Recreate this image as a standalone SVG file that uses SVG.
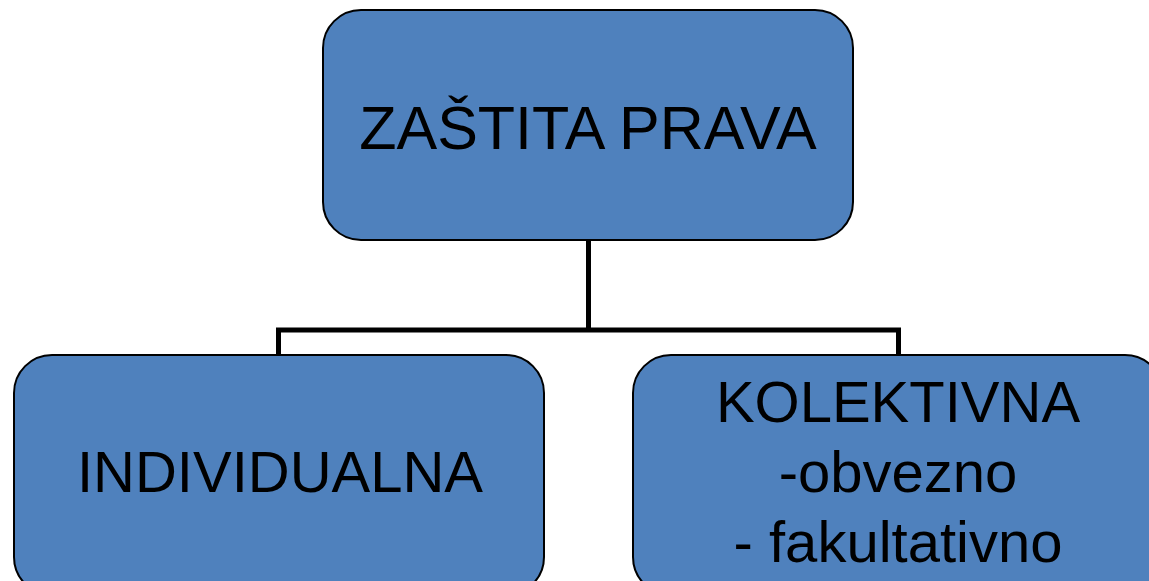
<svg xmlns="http://www.w3.org/2000/svg" width="1149" height="581" viewBox="0 0 1149 581">
<style>
.box{fill:#4F81BD;stroke:#000;stroke-width:2}
.lbl{font-family:"Liberation Sans",Arial,sans-serif;font-size:58px;fill:#000;text-anchor:middle}
.big{font-size:61px}
.conn{fill:none;stroke:#000;stroke-width:5}
</style>
<rect width="1149" height="581" fill="#fff"/>
<g id="connectors">
<path class="conn" d="M588.5 240 V330 M278.5 356 V330 H898.5 V356"/>
</g>
<g id="node-root">
<rect class="box" x="323" y="10" width="530" height="230" rx="38" ry="38"/>
<text class="lbl big" x="588" y="149">ZAŠTITA PRAVA</text>
</g>
<g id="node-individualna">
<rect class="box" x="14" y="355" width="530" height="240" rx="38" ry="38"/>
<text class="lbl" x="280" y="492">INDIVIDUALNA</text>
</g>
<g id="node-kolektivna">
<rect class="box" x="633" y="355" width="530" height="240" rx="38" ry="38"/>
<text class="lbl" x="898" y="422">KOLEKTIVNA</text>
<text class="lbl" x="898" y="492">-obvezno</text>
<text class="lbl" x="898" y="562">- fakultativno</text>
</g>
</svg>
